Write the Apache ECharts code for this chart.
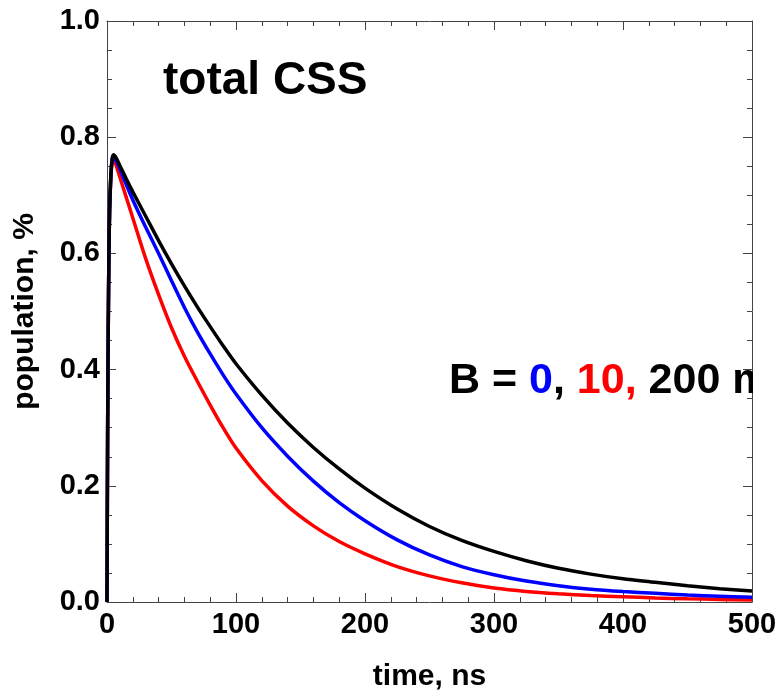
<!DOCTYPE html>
<html>
<head>
<meta charset="utf-8">
<script src="https://cdn.jsdelivr.net/npm/echarts@6/dist/echarts.min.js"></script>
<style>
html,body{margin:0;padding:0;background:#fff;}
#chart{width:779px;height:692px;}
</style>
</head>
<body>
<div id="chart"></div>
<script>
const times = [0,0.5,1,1.5,2,3,4,5,7,10,15,20,30,40,50,60,70,80,90,100,120,140,160,180,200,225,250,275,300,325,350,375,400,425,450,475,500];
const black200 = [0,0.3,0.48,0.6,0.67,0.735,0.762,0.77,0.765,0.751,0.728,0.706,0.664,0.622,0.582,0.544,0.508,0.474,0.441,0.41,0.356,0.308,0.266,0.229,0.196,0.16,0.13,0.106,0.087,0.071,0.058,0.048,0.040,0.034,0.028,0.023,0.019];
const blue0 = [0,0.3,0.48,0.6,0.67,0.735,0.762,0.768,0.76,0.745,0.718,0.692,0.645,0.6,0.553,0.507,0.465,0.427,0.391,0.358,0.3,0.251,0.208,0.171,0.14,0.107,0.081,0.061,0.047,0.036,0.028,0.022,0.018,0.015,0.012,0.01,0.008];
const red10 = [0,0.3,0.48,0.6,0.67,0.73,0.758,0.766,0.752,0.731,0.696,0.661,0.591,0.529,0.472,0.423,0.38,0.339,0.3,0.265,0.209,0.165,0.131,0.104,0.083,0.061,0.045,0.033,0.024,0.018,0.014,0.011,0.009,0.007,0.0055,0.0045,0.0035];
const xTicks = [0,100,200,300,400,500];
const yTicks = [0.0,0.2,0.4,0.6,0.8,1.0];

const pair = (vals) => times.map((t,i)=>[t,vals[i]]);
const font = 'Liberation Sans, Arial, sans-serif';
const axisColor = '#444';

const chart = echarts.init(document.getElementById('chart'), null, {renderer:'canvas'});
const commonX = {
  type:'value', min:xTicks[0], max:xTicks[xTicks.length-1], interval:100,
  axisLine:{show:true,onZero:false,lineStyle:{color:axisColor,width:1}},
  axisTick:{show:true,inside:true,length:9,lineStyle:{color:axisColor}},
  minorTick:{show:true,splitNumber:5,length:5,lineStyle:{color:axisColor}},
  splitLine:{show:false}
};
const commonY = {
  type:'value', min:yTicks[0], max:yTicks[yTicks.length-1], interval:0.2,
  axisLine:{show:true,onZero:false,lineStyle:{color:axisColor,width:1}},
  axisTick:{show:true,inside:true,length:9,lineStyle:{color:axisColor}},
  minorTick:{show:true,splitNumber:4,length:5,lineStyle:{color:axisColor}},
  splitLine:{show:false}
};
const lineCommon = {type:'line',showSymbol:false,smooth:0.3};
const option = {
  animation:false,
  backgroundColor:'#fff',
  grid:{left:107,right:27,top:21,bottom:90,containLabel:false,outerBoundsMode:'none'},
  xAxis:[
    Object.assign({}, commonX, {position:'bottom',
      name:'time, ns', nameLocation:'middle', nameGap:60,
      nameTextStyle:{fontFamily:font,fontWeight:'bold',fontSize:30,color:'#000'},
      axisLabel:{show:true,margin:8,fontFamily:font,fontWeight:'bold',fontSize:29,color:'#000'}}),
    Object.assign({}, commonX, {position:'top', axisLabel:{show:false}})
  ],
  yAxis:[
    Object.assign({}, commonY, {position:'left',
      name:'population, %', nameLocation:'middle', nameGap:67,
      nameTextStyle:{fontFamily:font,fontWeight:'bold',fontSize:30,color:'#000'},
      axisLabel:{show:true,margin:7,fontFamily:font,fontWeight:'bold',fontSize:29,color:'#000',
        formatter:(v)=>v.toFixed(1)}}),
    Object.assign({}, commonY, {position:'right', axisLabel:{show:false}})
  ],
  series:[
    Object.assign({}, lineCommon, {name:'10',data:pair(red10),lineStyle:{color:'#ff0000',width:3.5},z:2}),
    Object.assign({}, lineCommon, {name:'0',data:pair(blue0),lineStyle:{color:'#0000ff',width:3.5},z:3}),
    Object.assign({}, lineCommon, {name:'200',data:pair(black200),lineStyle:{color:'#000000',width:3.5},z:4})
  ],
  graphic:[
    {type:'text',left:163,top:58,z:10,style:{text:'total CSS',fontFamily:font,fontWeight:'bold',fontSize:46,fill:'#000'}},
    {type:'text',left:449,top:360,z:10,style:{
      text:'{k|B = }{b|0}{k|, }{r|10,}{k| 200 mT}',
      rich:{
        k:{fontFamily:font,fontWeight:'bold',fontSize:43,fill:'#000'},
        b:{fontFamily:font,fontWeight:'bold',fontSize:43,fill:'#0000ff'},
        r:{fontFamily:font,fontWeight:'bold',fontSize:43,fill:'#ff0000'}
      }}},
    {type:'rect',shape:{x:753,y:300,width:30,height:120},z:11,style:{fill:'#fff'}}
  ]
};
chart.setOption(option);
</script>
</body>
</html>
